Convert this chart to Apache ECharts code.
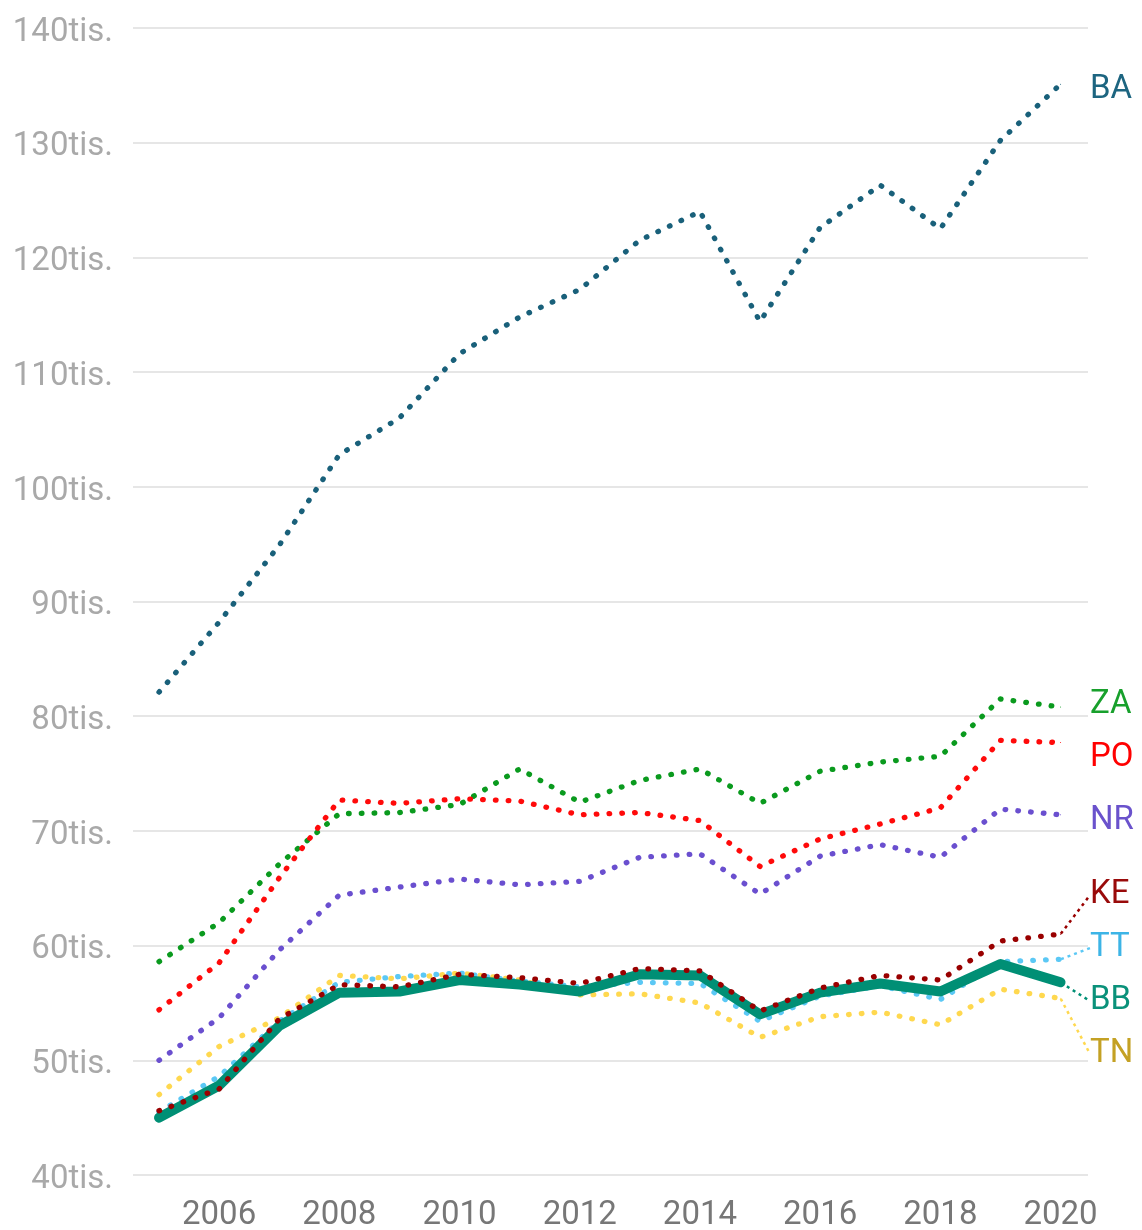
<!DOCTYPE html>
<html>
<head>
<meta charset="utf-8">
<script src="https://cdn.jsdelivr.net/npm/echarts@6/dist/echarts.min.js"></script>
<style>
html,body{margin:0;padding:0;background:#fff;}
#chart{width:1142px;height:1230px;}
</style>
</head>
<body>
<div id="chart"></div>
<script>
// ---- data (thousands of people) ----
const years = [2005,2006,2007,2008,2009,2010,2011,2012,2013,2014,2015,2016,2017,2018,2019,2020];
const xTickLabels = [2006,2008,2010,2012,2014,2016,2018,2020];
const yTickValues = [40,50,60,70,80,90,100,110,120,130,140];

const BA = [82.1, 88.2, 94.9, 102.8, 106.0, 111.6, 114.8, 117.2, 121.5, 124.0, 114.4, 122.6, 126.3, 122.5, 130.2, 135.1];
const ZA = [58.6, 62.0, 67.1, 71.5, 71.6, 72.3, 75.4, 72.5, 74.4, 75.4, 72.4, 75.2, 76.0, 76.5, 81.5, 80.8];
const PO = [54.4, 58.5, 65.9, 72.7, 72.4, 72.8, 72.6, 71.4, 71.6, 70.9, 66.9, 69.3, 70.6, 72.0, 77.9, 77.7];
const NR = [50.0, 53.7, 59.6, 64.4, 65.1, 65.8, 65.3, 65.6, 67.7, 68.0, 64.5, 67.8, 68.8, 67.7, 71.9, 71.4];
const TN = [47.0, 51.2, 53.7, 57.4, 57.1, 57.6, 57.0, 55.7, 55.8, 55.0, 52.0, 53.8, 54.2, 53.1, 56.2, 55.4];
const TT = [45.5, 48.6, 53.4, 56.8, 57.3, 57.6, 56.9, 56.4, 56.8, 56.7, 53.4, 55.6, 56.5, 55.3, 58.6, 58.8];
const BB = [45.0, 47.8, 53.0, 55.9, 56.0, 57.0, 56.6, 56.0, 57.5, 57.4, 54.0, 55.9, 56.7, 56.0, 58.4, 56.8];
const KE = [45.6, 47.5, 53.6, 56.6, 56.4, 57.5, 57.2, 56.7, 58.0, 57.8, 54.3, 56.3, 57.4, 57.0, 60.4, 61.0];

const seriesOrder = ['BA','ZA','PO','NR','TN','TT','BB','KE'];
const seriesData = {BA, ZA, PO, NR, TN, TT, BB, KE};

// ---- styles ----
const styleMap = {
  BA: {line:'#19607a', label:'#1d6580', leader:false},
  ZA: {line:'#0a9a1e', label:'#18a02c', leader:false},
  PO: {line:'#ff0a0a', label:'#ff0000', leader:false},
  NR: {line:'#6a4fcf', label:'#6a52cc', leader:false},
  TN: {line:'#ffd84f', label:'#c4a124', leader:true},
  TT: {line:'#5bc8f5', label:'#3cb4e6', leader:true},
  BB: {line:'#008f75', label:'#0a917a', leader:true, solid:true},
  KE: {line:'#990000', label:'#990a0a', leader:true}
};
const FONT = 'Roboto, "Noto Sans", sans-serif';
const LABEL_TEXT_SHIFT = 6;   // glyph baseline tweak for end labels
const GAP = 53;               // min vertical spacing of end labels

function buildSeries(name) {
  const vals = seriesData[name];
  const st = styleMap[name];
  const last = vals.length - 1;
  const data = vals.map((v, i) => i === last
    ? {value: [years[i], v], symbol: 'circle', symbolSize: 1, label: {show: true}}
    : [years[i], v]);
  return {
    name: name,
    type: 'line',
    data: data,
    symbol: 'none',
    showSymbol: true,
    clip: false,
    smooth: false,
    animation: false,
    lineStyle: st.solid
      ? {color: st.line, width: 10, cap: 'round', join: 'round'}
      : {color: st.line, width: 5.3, type: [0.6, 12.2], cap: 'round', join: 'round'},
    itemStyle: {color: st.line},
    label: {
      show: false, position: 'right', distance: 29,
      formatter: () => name,
      color: st.label, fontSize: 33, fontFamily: FONT
    },
    labelLine: {
      show: st.leader, length2: 0, smooth: false,
      lineStyle: {color: st.line, width: 2.5, type: [3, 4]}
    },
    labelLayout: {dy: 0},
    emphasis: {disabled: true}
  };
}

const chart = echarts.init(document.getElementById('chart'), null, {renderer: 'canvas'});
const option = {
  backgroundColor: '#ffffff',
  animation: false,
  grid: {left: 133, right: 54, top: 28, bottom: 55, containLabel: false, outerBoundsMode: 'none'},
  xAxis: {
    type: 'value',
    min: 2004.567,
    max: 2020.457,
    axisLine: {show: false},
    axisTick: {show: false},
    splitLine: {show: false},
    axisLabel: {
      customValues: xTickLabels,
      formatter: v => String(v),
      color: '#777777', fontSize: 33, fontFamily: FONT, margin: 24
    }
  },
  yAxis: {
    type: 'value',
    min: 40, max: 140, interval: 10,
    axisLine: {show: false},
    axisTick: {show: false},
    splitLine: {show: true, lineStyle: {color: '#e6e6e6', width: 2}},
    axisLabel: {
      customValues: yTickValues,
      formatter: v => '{t|' + v + 'tis.}',
      rich: {t: {color: '#a9a9a9', fontSize: 33, fontFamily: FONT, padding: [9, 0, 0, 0]}},
      color: '#a9a9a9', fontSize: 33, fontFamily: FONT, margin: 20
    }
  },
  series: seriesOrder.map(buildSeries)
};
chart.setOption(option);

// ---- spread end labels vertically to avoid overlaps (positions from the chart's own scale) ----
const items = seriesOrder.map((name, idx) => {
  const vals = seriesData[name];
  const p = chart.convertToPixel({seriesIndex: idx}, [years[vals.length - 1], vals[vals.length - 1]]);
  return {idx: idx, y0: p[1], y: p[1]};
});
const sorted = items.slice().sort((a, b) => a.y0 - b.y0);
for (let it = 0; it < 400; it++) {
  let moved = false;
  for (let i = 0; i < sorted.length - 1; i++) {
    const d = sorted[i + 1].y - sorted[i].y;
    if (d < GAP - 0.01) {
      const o = (GAP - d) / 2;
      sorted[i].y -= o;
      sorted[i + 1].y += o;
      moved = true;
    }
  }
  if (!moved) break;
}
chart.setOption({
  series: items.map(it => ({labelLayout: {dy: it.y - it.y0 + LABEL_TEXT_SHIFT}}))
});
</script>
</body>
</html>
